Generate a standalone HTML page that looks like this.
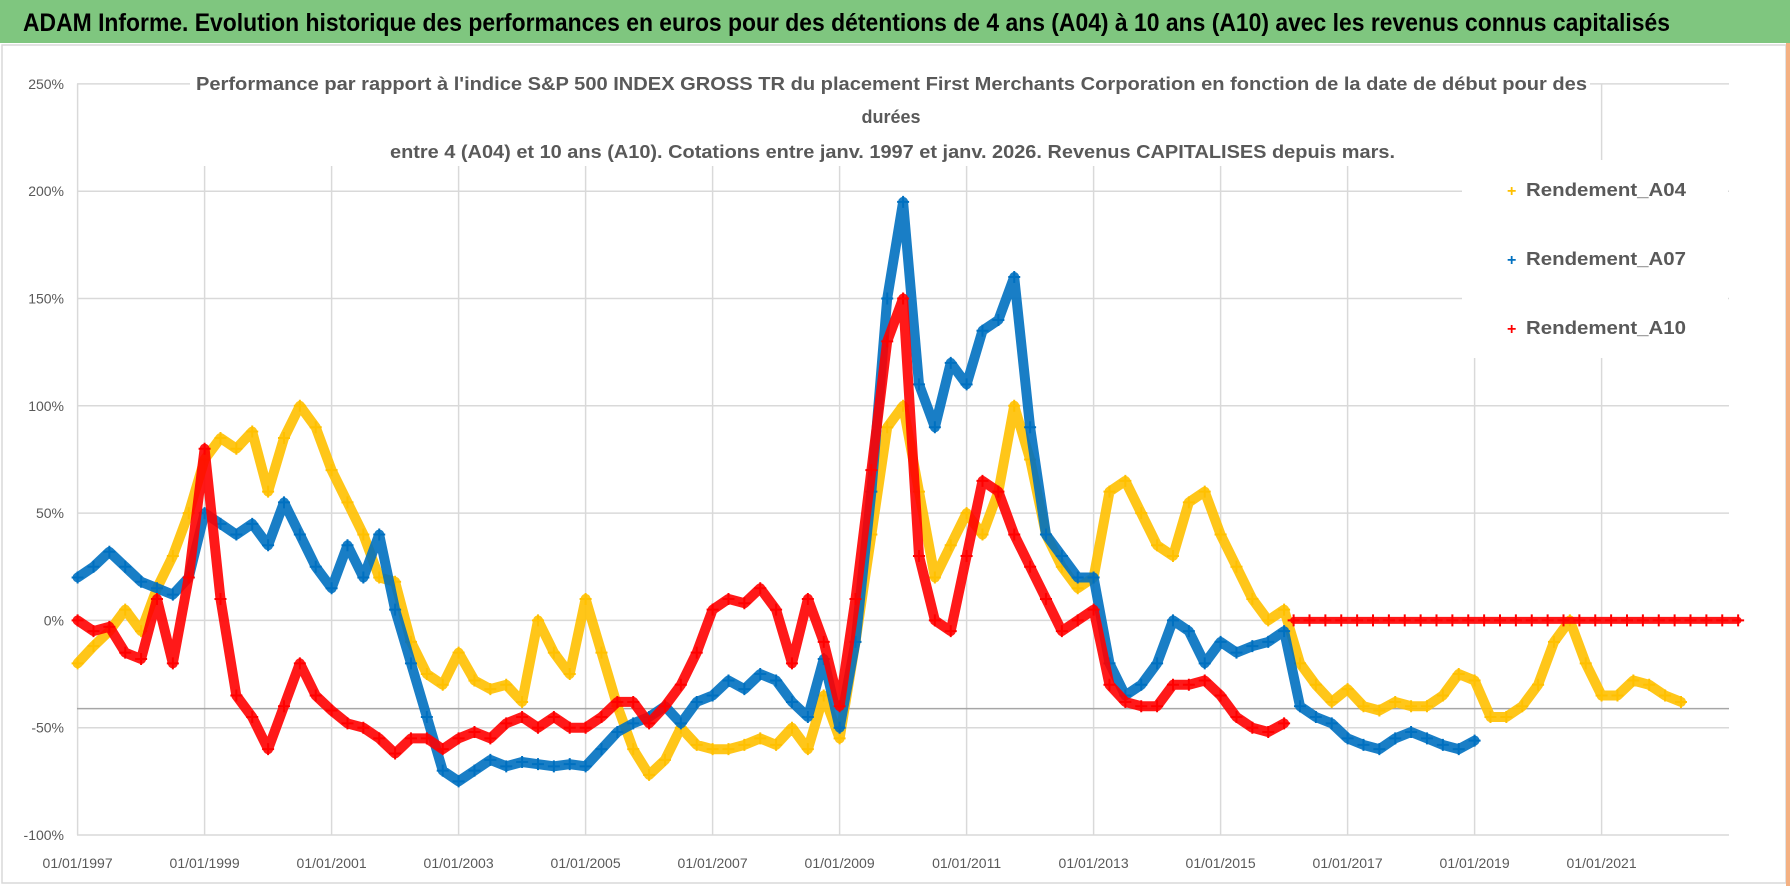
<!DOCTYPE html>
<html><head><meta charset="utf-8"><style>
html,body{margin:0;padding:0;background:#fff;}
svg{display:block;font-family:"Liberation Sans",sans-serif;}
</style></head><body>
<svg id="chart" width="1790" height="886" viewBox="0 0 1790 886" xmlns="http://www.w3.org/2000/svg">
<rect x="0" y="0" width="1790" height="886" fill="#fff"/>
<rect x="0" y="0" width="1790" height="43" fill="#7fc67f"/>
<text x="23" y="31" font-size="25" font-weight="bold" fill="#000" textLength="1647" lengthAdjust="spacingAndGlyphs">ADAM Informe. Evolution historique des performances en euros pour des détentions de 4 ans (A04) à 10 ans (A10) avec les revenus connus capitalisés</text>
<rect x="2" y="45" width="1784" height="838" fill="none" stroke="#d9d9d9" stroke-width="1.5"/>
<rect x="1786" y="43" width="4" height="843" fill="#f4b183"/>
<g id="grid"></g>
<line x1="77" y1="708.6" x2="1729" y2="708.6" stroke="#a6a6a6" stroke-width="1.5"/>
<g id="series"></g>
<g id="axes"></g>
<rect x="190" y="66" width="1400" height="100" fill="#fff"/>
<text x="196" y="90" font-size="18" font-weight="bold" fill="#595959" textLength="1391" lengthAdjust="spacingAndGlyphs">Performance par rapport à l'indice S&amp;P 500 INDEX GROSS TR  du placement First Merchants Corporation en fonction de la date de début pour des</text>
<text x="891" y="123" font-size="18" font-weight="bold" fill="#595959" text-anchor="middle">durées</text>
<text x="390" y="158" font-size="18" font-weight="bold" fill="#595959" textLength="1005" lengthAdjust="spacingAndGlyphs">entre 4 (A04) et 10 ans (A10). Cotations entre janv. 1997 et janv. 2026. Revenus CAPITALISES depuis mars.</text>
<rect x="1462" y="160" width="266" height="198" fill="#fff"/>
<g font-size="18" font-weight="bold" fill="#595959">
<g><text x="1507" y="196" font-size="16" fill="#ffc000">+</text><text x="1526" y="196" textLength="160" lengthAdjust="spacingAndGlyphs">Rendement_A04</text></g>
<g><text x="1507" y="265" font-size="16" fill="#0070c0">+</text><text x="1526" y="265" textLength="160" lengthAdjust="spacingAndGlyphs">Rendement_A07</text></g>
<g><text x="1507" y="334" font-size="16" fill="#ff0000">+</text><text x="1526" y="334" textLength="160" lengthAdjust="spacingAndGlyphs">Rendement_A10</text></g>
</g>
</svg>
<script>
const yTicks = [250, 200, 150, 100, 50, 0, -50, -100];
const yTickLabels = ['250%', '200%', '150%', '100%', '50%', '0%', '-50%', '-100%'];
const xTicks = [1997, 1999, 2001, 2003, 2005, 2007, 2009, 2011, 2013, 2015, 2017, 2019, 2021];
const xTickLabels = ['01/01/1997','01/01/1999','01/01/2001','01/01/2003','01/01/2005','01/01/2007','01/01/2009','01/01/2011','01/01/2013','01/01/2015','01/01/2017','01/01/2019','01/01/2021'];
const a04Start = 1997;
const a04Values = [-20,-12,-5,5,-5,15,30,50,75,85,80,88,60,85,100,90,70,55,40,20,18,-10,-25,-30,-15,-28,-32,-30,-38,0,-15,-25,10,-15,-40,-60,-72,-65,-50,-58,-60,-60,-58,-55,-58,-50,-60,-35,-55,-10,40,90,100,60,20,35,50,40,60,100,75,40,25,15,20,60,65,50,35,30,55,60,40,25,10,0,5,-20,-30,-38,-32,-40,-42,-38,-40,-40,-35,-25,-28,-45,-45,-40,-30,-10,0,-20,-35,-35,-28,-30,-35,-38];
const a07Start = 1997;
const a07Values = [20,25,32,25,18,15,12,20,50,45,40,45,35,55,40,25,15,35,20,40,5,-20,-45,-70,-75,-70,-65,-68,-66,-67,-68,-67,-68,-60,-52,-48,-45,-40,-48,-38,-35,-28,-32,-25,-28,-38,-45,-18,-50,-10,60,150,195,110,90,120,110,135,140,160,90,40,30,20,20,-20,-35,-30,-20,0,-5,-20,-10,-15,-12,-10,-5,-40,-45,-48,-55,-58,-60,-55,-52,-55,-58,-60,-56];
const a10Start = 1997;
const a10Values = [0,-5,-3,-15,-18,10,-20,20,80,10,-35,-45,-60,-40,-20,-35,-42,-48,-50,-55,-62,-55,-55,-60,-55,-52,-55,-48,-45,-50,-45,-50,-50,-45,-38,-38,-48,-40,-30,-15,5,10,8,15,5,-20,10,-10,-40,10,70,130,150,30,0,-5,30,65,60,40,25,10,-5,0,5,-30,-38,-40,-40,-30,-30,-28,-35,-45,-50,-52,-48];
const a10ZeroStart = 2016.15;
const a10ZeroValues = [0,0,0,0,0,0,0,0,0,0,0,0,0,0,0,0,0,0,0,0,0,0,0,0,0,0,0,0,0];
const step = 0.25;

const NS = 'http://www.w3.org/2000/svg';
const X0 = 77.6, PX_YR = 63.5, Y0 = 620.4, PX_PCT = 2.146;
function xScale(yr){ return X0 + (yr - 1997) * PX_YR; }
function yScale(v){ return Y0 - v * PX_PCT; }
function mk(tag, attrs){ const e = document.createElementNS(NS, tag); for (const k in attrs) e.setAttribute(k, attrs[k]); return e; }

const grid = document.getElementById('grid');
const axes = document.getElementById('axes');
yTicks.forEach((t, i) => {
  const l = mk('line', {x1: 77, x2: 1729, y1: yScale(t), y2: yScale(t), stroke: '#d9d9d9', 'stroke-width': 1.5});
  
  
  grid.appendChild(l);
  const tx = mk('text', {x: 64, y: yScale(t) + 5, 'text-anchor': 'end', 'font-size': 14, fill: '#595959'});
  tx.textContent = yTickLabels[i];
  
  
  axes.appendChild(tx);
});
xTicks.forEach((t, i) => {
  const l = mk('line', {x1: xScale(t), x2: xScale(t), y1: yScale(250), y2: yScale(-100), stroke: '#d9d9d9', 'stroke-width': 1.5});
  
  
  grid.appendChild(l);
  const tx = mk('text', {x: xScale(t), y: 868, 'text-anchor': 'middle', 'font-size': 14, fill: '#595959'});
  tx.textContent = xTickLabels[i];
  
  
  axes.appendChild(tx);
});

const series = document.getElementById('series');
function drawSeries(name, start, values, color, width){
  const g = mk('g', {});
  
  
  const pts = values.map((v, i) => xScale(start + i * step).toFixed(1) + ',' + yScale(v).toFixed(1)).join(' ');
  const pl = mk('polyline', {points: pts, fill: 'none', stroke: color, 'stroke-width': width, 'stroke-linejoin': 'round', 'stroke-linecap': 'round', opacity: 0.9});
  
  
  g.appendChild(pl);
  values.forEach((v, i) => {
    const x = xScale(start + i * step), y = yScale(v);
    const p = mk('path', {d: `M${x-6},${y}h12M${x},${y-6}v12`, stroke: color, 'stroke-width': 2});
    
    
    g.appendChild(p);
  });
  series.appendChild(g);
}
drawSeries('series-a04', a04Start, a04Values, '#ffc000', 10);
drawSeries('series-a07', a07Start, a07Values, '#0070c0', 10);
drawSeries('series-a10', a10Start, a10Values, '#ff0000', 10);
drawSeries('series-a10-zero', a10ZeroStart, a10ZeroValues, '#ff0000', 7);
</script>
</body></html>
